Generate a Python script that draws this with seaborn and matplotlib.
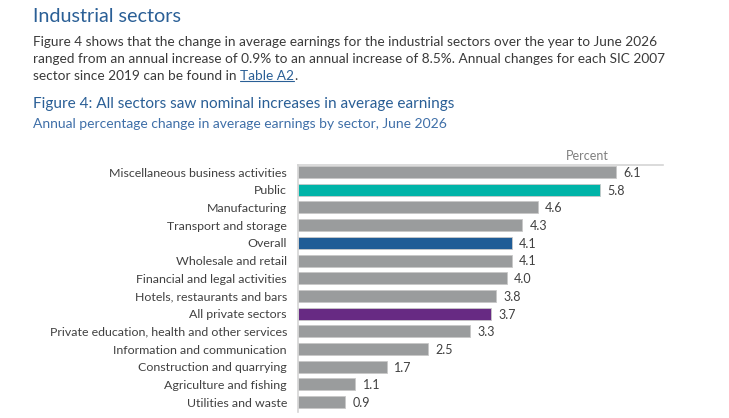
import matplotlib
matplotlib.use("Agg")
import matplotlib.pyplot as plt
import seaborn as sns
import pandas as pd
from matplotlib.lines import Line2D

sectors = ["Miscellaneous business activities", "Public", "Manufacturing",
           "Transport and storage", "Overall", "Wholesale and retail",
           "Financial and legal activities", "Hotels, restaurants and bars",
           "All private sectors", "Private education, health and other services",
           "Information and communication", "Construction and quarrying",
           "Agriculture and fishing", "Utilities and waste"]
changes = [6.1, 5.8, 4.6, 4.3, 4.1, 4.1, 4.0, 3.8, 3.7, 3.3, 2.5, 1.7, 1.1, 0.9]

GREY = "#9a9c9d"
highlight = {"Public": "#00b4a8", "Overall": "#1f5c96", "All private sectors": "#672a83"}
palette = {s: highlight.get(s, GREY) for s in sectors}

sns.set_style("white")
plt.rcParams["font.family"] = ["Lato", "DejaVu Sans"]

df = pd.DataFrame({"sector": sectors, "change": changes})

fig = plt.figure(figsize=(7.29, 4.18), dpi=100)
ax = fig.add_axes([298 / 729, 1 - 412 / 418, 365 / 729, 247 / 418])

sns.barplot(data=df, x="change", y="sector", hue="sector", palette=palette,
            order=sectors, hue_order=sectors, legend=False, width=0.68,
            saturation=1, edgecolor="#c8c8c8", linewidth=0.6, ax=ax)

for i, v in enumerate(changes):
    ax.text(v + 0.14, i + 0.05, f"{v:.1f}", va="center", ha="left",
            fontsize=9, color="#404040")

ax.set_xlim(0, 7)
ax.set_ylim(13.56, -0.4)
ax.set_xlabel("")
ax.set_ylabel("")
ax.set_xticks([])
ax.tick_params(axis="y", length=0, pad=8, labelsize=8.9, labelcolor="#404040")
for side in ["right", "bottom"]:
    ax.spines[side].set_visible(False)
for side in ["left", "top"]:
    ax.spines[side].set_color("#d4d4d4")
    ax.spines[side].set_linewidth(1.2)

ax.text(5.55, -0.55, "Percent", ha="center", va="bottom", fontsize=9, color="#808080")

BLUE = "#2a5f96"
TEXT = "#3a3a3a"
FS = 9.85
fig.text(33 / 729, 1 - 17 / 418, "Industrial sectors", fontsize=14.2,
         color=BLUE, va="center", ha="left")

body = ["Figure 4 shows that the change in average earnings for the industrial sectors over the year to June 2026",
        "ranged from an annual increase of 0.9% to an annual increase of 8.5%. Annual changes for each SIC 2007"]
ys = [42, 59, 76]
for line, y in zip(body, ys):
    fig.text(33 / 729, 1 - y / 418, line, fontsize=FS, color=TEXT, va="center", ha="left")

t1 = fig.text(33 / 729, 1 - ys[2] / 418, "sector since 2019 can be found in ",
              fontsize=FS, color=TEXT, va="center", ha="left")
fig.canvas.draw()
r = fig.canvas.get_renderer()
bb = t1.get_window_extent(r).transformed(fig.transFigure.inverted())
t2 = fig.text(bb.x1, 1 - ys[2] / 418, "Table A2", fontsize=FS, color=BLUE,
              va="center", ha="left")
bb2 = t2.get_window_extent(r).transformed(fig.transFigure.inverted())
fig.text(bb2.x1, 1 - ys[2] / 418, ".", fontsize=FS, color=TEXT, va="center", ha="left")
fig.add_artist(Line2D([bb2.x0, bb2.x1], [bb2.y0 + 0.002, bb2.y0 + 0.002],
                      transform=fig.transFigure, color=BLUE, linewidth=0.8))

fig.text(33 / 729, 1 - 104 / 418, "Figure 4: All sectors saw nominal increases in average earnings",
         fontsize=11.1, color=BLUE, va="center", ha="left")
fig.text(33 / 729, 1 - 124 / 418, "Annual percentage change in average earnings by sector, June 2026",
         fontsize=10.0, color="#3f6fa8", va="center", ha="left")

fig.savefig("out.png", dpi=100)
